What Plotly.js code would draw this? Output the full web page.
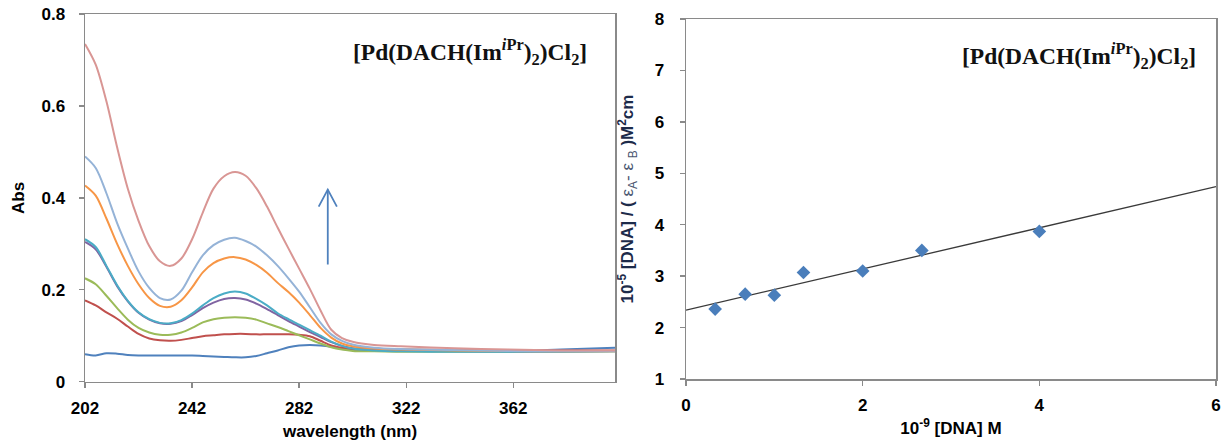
<!DOCTYPE html>
<html>
<head>
<meta charset="utf-8">
<script src="https://cdn.plot.ly/plotly-3.0.1.min.js"></script>
<style>html,body{margin:0;padding:0;background:#fff;}#chart{width:1224px;height:444px;}</style>
</head>
<body>
<div id="chart"></div>
<script>
// ---- Left panel: UV-Vis spectra ----
const wavelength = [202,206,210,214,218,222,226,230,234,238,242,246,250,254,258,262,266,270,274,278,282,286,290,294,298,302,310,320,340,360,380,400];

const absBlue   = [0.060,0.057,0.062,0.061,0.058,0.057,0.057,0.057,0.057,0.057,0.057,0.056,0.055,0.054,0.053,0.053,0.056,0.062,0.068,0.075,0.079,0.080,0.079,0.076,0.071,0.069,0.068,0.067,0.067,0.067,0.070,0.074];
const absRed    = [0.177,0.166,0.151,0.137,0.120,0.104,0.094,0.090,0.089,0.091,0.095,0.099,0.101,0.103,0.104,0.104,0.103,0.103,0.103,0.103,0.102,0.099,0.089,0.079,0.074,0.071,0.070,0.070,0.069,0.068,0.068,0.068];
const absGreen  = [0.225,0.212,0.187,0.160,0.135,0.117,0.107,0.102,0.102,0.107,0.117,0.129,0.136,0.139,0.140,0.139,0.135,0.127,0.119,0.110,0.101,0.092,0.083,0.075,0.070,0.067,0.066,0.065,0.065,0.065,0.065,0.066];
const absPurple = [0.304,0.288,0.250,0.208,0.175,0.150,0.135,0.127,0.126,0.132,0.145,0.160,0.172,0.180,0.182,0.179,0.170,0.158,0.145,0.132,0.120,0.108,0.097,0.086,0.078,0.073,0.070,0.068,0.067,0.066,0.066,0.067];
const absCyan   = [0.310,0.293,0.252,0.210,0.176,0.151,0.136,0.128,0.127,0.134,0.148,0.166,0.182,0.192,0.196,0.192,0.180,0.166,0.149,0.136,0.124,0.112,0.100,0.087,0.078,0.072,0.068,0.066,0.065,0.065,0.065,0.066];
const absOrange = [0.427,0.405,0.355,0.300,0.252,0.212,0.182,0.165,0.163,0.177,0.205,0.238,0.258,0.268,0.271,0.266,0.254,0.237,0.215,0.195,0.172,0.145,0.117,0.096,0.083,0.077,0.072,0.070,0.068,0.067,0.066,0.066];
const absLtBlue = [0.490,0.465,0.410,0.345,0.290,0.240,0.204,0.182,0.179,0.198,0.238,0.275,0.297,0.309,0.313,0.306,0.294,0.275,0.252,0.225,0.196,0.162,0.128,0.103,0.089,0.081,0.074,0.071,0.069,0.067,0.066,0.066];
const absPink   = [0.735,0.690,0.610,0.510,0.420,0.350,0.295,0.262,0.252,0.268,0.310,0.368,0.420,0.447,0.456,0.448,0.421,0.381,0.335,0.290,0.246,0.202,0.155,0.113,0.095,0.087,0.080,0.077,0.073,0.070,0.068,0.068];

const spectra = [absBlue, absRed, absGreen, absPurple, absCyan, absOrange, absLtBlue, absPink];
const spectraColors = ['#4F81BD','#C0504D','#9BBB59','#8064A2','#4BACC6','#F79646','#95B3D7','#D99694'];

const wlTicks = [202,242,282,322,362];
const absTicks = [0,0.2,0.4,0.6,0.8];

// ---- Right panel: binding plot ----
const dnaConc = [0.33,0.67,1.0,1.33,2.0,2.67,4.0];
const ratio   = [2.36,2.65,2.63,3.07,3.10,3.50,3.87];
const trendX  = [0,6];
const trendY  = [2.34,4.74];

const dnaTicks = [0,2,4,6];
const ratioTicks = [1,2,3,4,5,6,7,8];

const complexLabel = '[Pd(DACH(Im<sup><i>i</i>Pr</sup>)<sub>2</sub>)Cl<sub>2</sub>]';

const bold = v => '<b>' + v + '</b>';

const traces = spectra.map((ys, i) => ({
  x: wavelength, y: ys, type: 'scatter', mode: 'lines',
  line: {color: spectraColors[i], width: 2, shape: 'spline', smoothing: 0.9},
  xaxis: 'x', yaxis: 'y', hoverinfo: 'skip'
}));
traces.push({
  x: trendX, y: trendY, type: 'scatter', mode: 'lines',
  line: {color: '#3a3a3a', width: 1.3}, xaxis: 'x2', yaxis: 'y2'
});
traces.push({
  x: dnaConc, y: ratio, type: 'scatter', mode: 'markers',
  marker: {symbol: 'diamond', size: 10.5, color: '#4A7EBB'}, xaxis: 'x2', yaxis: 'y2'
});

const tickFont = {family: 'Liberation Sans, Arial, sans-serif', size: 17, color: '#000', weight: 700};
const titleFont = {family: 'Liberation Sans, Arial, sans-serif', size: 17, color: '#000', weight: 700};
const axisCommon = {
  showgrid: false, zeroline: false, showline: true, mirror: true,
  linecolor: '#8a8a8a', linewidth: 1.5, ticks: 'outside', ticklen: 5,
  tickcolor: '#8a8a8a', tickwidth: 1.3, tickfont: tickFont, fixedrange: true,
  ticklabeloverflow: 'allow'
};

const layout = {
  width: 1224, height: 444,
  margin: {l: 0, r: 0, t: 0, b: 0},
  paper_bgcolor: '#fff', plot_bgcolor: '#fff',
  showlegend: false,
  xaxis: Object.assign({}, axisCommon, {
    domain: [85/1224, 615/1224], range: [202, 400],
    tickvals: wlTicks, ticktext: wlTicks.map(bold), ticklabelstandoff: 5,
    title: {text: '<b>wavelength (nm)</b>', font: titleFont, standoff: 8}
  }),
  yaxis: Object.assign({}, axisCommon, {
    domain: [(444-381.7)/444, (444-14)/444], range: [0, 0.8],
    tickvals: absTicks, ticktext: absTicks.map(bold), ticklabelstandoff: 10,
    title: {text: '<b>Abs</b>', font: titleFont, standoff: 12}
  }),
  xaxis2: Object.assign({}, axisCommon, {
    domain: [686/1224, 1216/1224], range: [0, 6], anchor: 'y2',
    tickvals: dnaTicks, ticktext: dnaTicks.map(bold), ticklabelstandoff: 5,
    title: {text: '<b>10<sup>-9</sup> [DNA] M</b>', font: titleFont, standoff: 8}
  }),
  yaxis2: Object.assign({}, axisCommon, {
    domain: [(444-379)/444, (444-19)/444], range: [1, 8], anchor: 'x2',
    tickvals: ratioTicks, ticktext: ratioTicks.map(bold), ticklabelstandoff: 12,
    title: {text: '<b>10<sup>-5</sup> [DNA] / ( </b><span style="color:#4a5570">ε<sub>A</sub>- ε <sub>B</sub></span><b> )M<sup>2</sup>cm</b>',
            font: Object.assign({}, titleFont, {color: '#1d2b4a', weight: 400}), standoff: 16}
  }),
  annotations: [
    {xref: 'paper', yref: 'paper', x: 470/1224, y: 1 - 52/444, xanchor: 'center', yanchor: 'middle',
     text: '<b>' + complexLabel + '</b>', showarrow: false,
     font: {family: 'Liberation Serif, Times New Roman, serif', size: 23.5, color: '#111'}},
    {xref: 'paper', yref: 'paper', x: 1079/1224, y: 1 - 56/444, xanchor: 'center', yanchor: 'middle',
     text: '<b>' + complexLabel + '</b>', showarrow: false,
     font: {family: 'Liberation Serif, Times New Roman, serif', size: 23.5, color: '#111'}}
  ],
  shapes: [
    {type: 'line', xref: 'x', yref: 'y', x0: 292.7, x1: 292.7, y0: 0.255, y1: 0.418,
     line: {color: '#4F81BD', width: 1.8}},
    {type: 'path', xref: 'x', yref: 'y', path: 'M 289.3,0.381 L 292.7,0.418 L 296.1,0.381',
     line: {color: '#4F81BD', width: 1.8}}
  ]
};

Plotly.newPlot('chart', traces, layout, {staticPlot: true, displayModeBar: false});
</script>
</body>
</html>
